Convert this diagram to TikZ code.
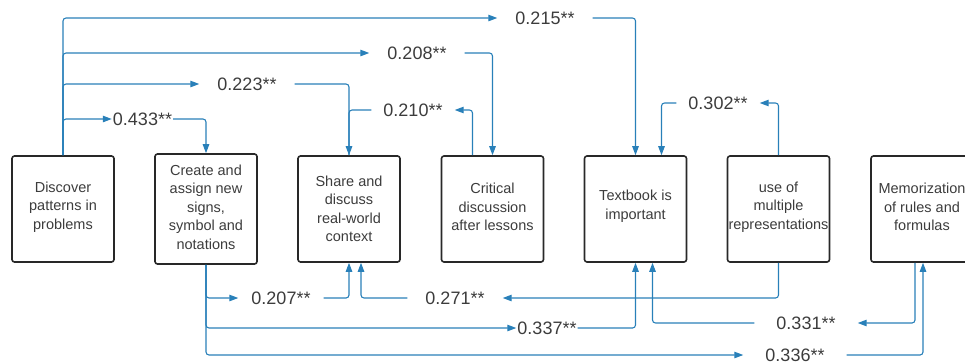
\documentclass[tikz,border=0pt]{standalone}
\usepackage{fontspec}
\setmainfont{Liberation Sans}
\usetikzlibrary{arrows.meta,calc}
\definecolor{lnblue}{RGB}{41,128,185}
\definecolor{txtgray}{RGB}{60,60,60}
\definecolor{boxedge}{RGB}{40,40,40}
\begin{document}
\begin{tikzpicture}[x=1pt,y=-1pt,
  box/.style={draw=boxedge,line width=1.6pt,rounded corners=2.5pt,minimum width=102pt,minimum height=106pt,
    align=center,text=txtgray,font=\fontsize{14.5}{18.5}\selectfont,inner sep=0pt},
  lab/.style={text=txtgray,font=\fontsize{18}{20}\selectfont,inner xsep=18pt,inner ysep=0pt},
  conn/.style={draw=lnblue,line width=1.1pt,rounded corners=3pt},
  arr/.style={conn,-{Triangle[length=9pt,width=6.5pt]}}]
\useasboundingbox (0,0) rectangle (965,362);
% boxes
\node[box] (b1) at (63,209) {};
\node[text=txtgray,font=\fontsize{14.5}{18.5}\selectfont,align=center,inner sep=0pt] (t1) at (63,207) {Discover\\patterns in\\problems};
\node[box,minimum height=110pt] (b2) at (206,209) {};
\node[text=txtgray,font=\fontsize{14.5}{18.5}\selectfont,align=center,inner sep=0pt] (t2) at (206,207) {Create and\\assign new\\signs,\\symbol and\\notations};
\node[box] (b3) at (349,209) {Share and\\discuss\\real-world\\context};
\node[box] (b4) at (492.5,209) {};
\node[text=txtgray,font=\fontsize{14.5}{18.5}\selectfont,align=center,inner sep=0pt] (t4) at (492.5,207) {Critical\\discussion\\after lessons};
\node[box] (b5) at (635.5,209) {};
\node[text=txtgray,font=\fontsize{14.5}{18.5}\selectfont,align=center,inner sep=0pt] (t5) at (635.5,206) {Textbook is\\important};
\node[box] (b6) at (778.5,209) {};
\node[text=txtgray,font=\fontsize{14.5}{18.5}\selectfont,align=center,inner sep=0pt] (t6) at (778.5,207) {use of\\multiple\\representations};
\node[box] (b7) at (922,209) {};
\node[text=txtgray,font=\fontsize{14.5}{18.5}\selectfont,align=center,inner sep=0pt] (t7) at (922,207) {Memorization\\of rules and\\formulas};
% labels
\node[lab] (l215) at (545,18) {0.215**};
\node[lab] (l208) at (417,53) {0.208**};
\node[lab] (l223) at (247,84) {0.223**};
\node[lab,inner xsep=1pt] (l433) at (142.5,119) {0.433**};
\node[lab,inner xsep=12pt] (l210) at (413,110) {0.210**};
\node[lab,inner xsep=12pt] (l302) at (718,103) {0.302**};
\node[lab,inner xsep=13pt] (l207) at (281,298) {0.207**};
\node[lab] (l271) at (455,298) {0.271**};
\node[lab,inner xsep=1pt] (l337) at (547,328) {0.337**};
\node[lab,inner xsep=22pt] (l331) at (806,323) {0.331**};
\node[lab,inner xsep=22pt] (l336) at (795,355) {0.336**};
% top connectors
\draw[arr] (b1.north) |- (l215.west);
\draw[arr] (l215.east) -| (b5.north);
\draw[arr] (b1.north) |- (l208.west);
\draw[arr] (l208.east) -| (b4.north);
\draw[arr] (b1.north) |- (l223.west);
\draw[arr] (l223.east) -| (b3.north);
\draw[arr] (b1.north) |- (l433.west);
\draw[arr] (l433.east) -| (b2.north);
\draw[arr] ([xshift=-20pt]b4.north) |- (l210.east);
\draw[conn] (l210.west) -| (b3.north);
\draw[arr] (b6.north) |- (l302.east);
\draw[arr] (l302.west) -| ([xshift=26pt]b5.north);
% bottom connectors
\draw[arr] (b2.south) |- (l207.west);
\draw[arr] (l207.east) -| (b3.south);
\draw[arr] (b6.south) |- (l271.east);
\draw[arr] (l271.west) -| ([xshift=12pt]b3.south);
\draw[arr] (b2.south) |- (l337.west);
\draw[arr] (l337.east) -| (b5.south);
\draw[arr] ([xshift=-7pt]b7.south) |- (l331.east);
\draw[arr] (l331.west) -| ([xshift=17pt]b5.south);
\draw[arr] (b2.south) |- (l336.west);
\draw[arr] (l336.east) -| ([xshift=1pt]b7.south);
\end{tikzpicture}
\end{document}
